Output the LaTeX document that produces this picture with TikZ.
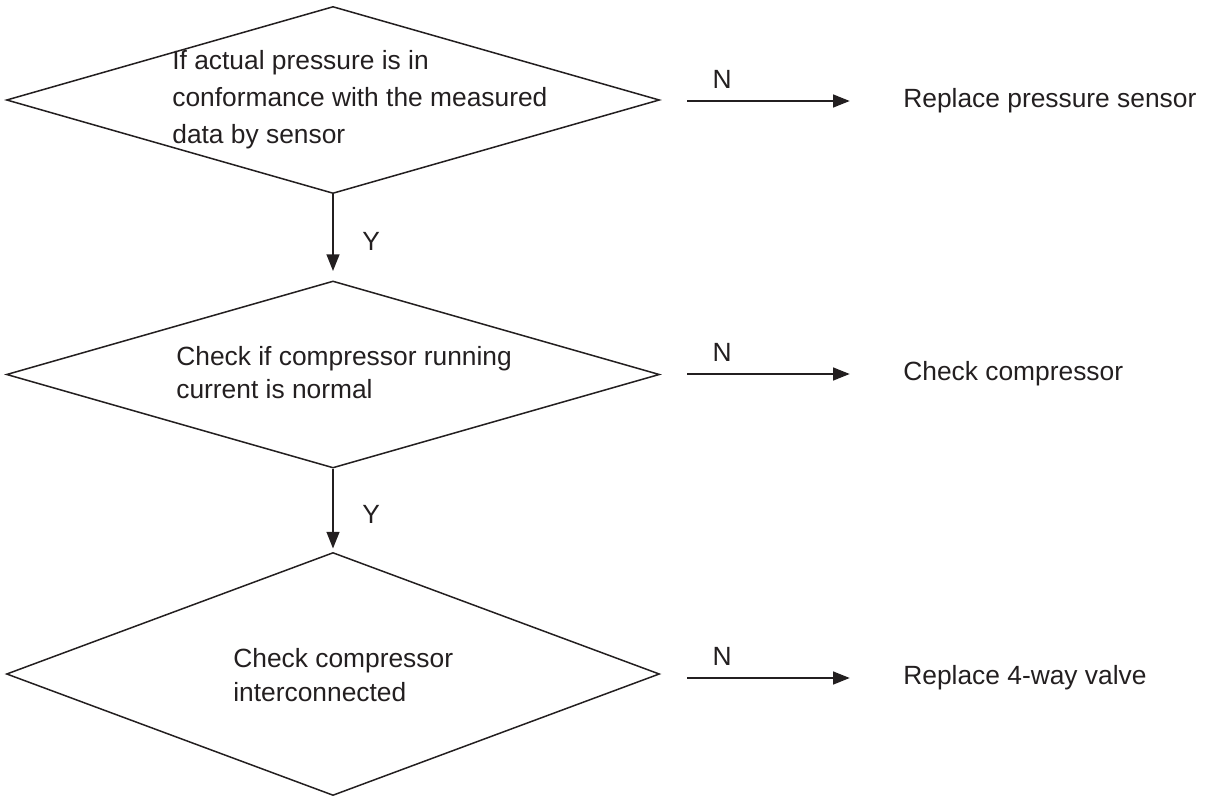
\documentclass[tikz,border=0pt]{standalone}
\usepackage{fontspec}
\setmainfont{Liberation Sans}
\usepackage{xcolor}
\usepackage{tikz}
\usetikzlibrary{arrows.meta,positioning,shapes.geometric}
\definecolor{inkgray}{RGB}{35,31,32}
\tikzset{
  decision/.style={diamond,draw=inkgray,line width=0.85pt,inner sep=0pt,
    minimum width=13.06cm,minimum height=3.74cm},
  arr/.style={-{Triangle[length=3.4mm,width=2.5mm]},line width=1.7pt,draw=inkgray},
  qtext/.style={anchor=west,align=left,inner sep=0pt,
    font=\fontsize{15}{19}\selectfont,text=inkgray},
  action/.style={anchor=west,inner sep=0pt,font=\fontsize{15}{19}\selectfont,text=inkgray},
  yn/.style={inner sep=0pt,font=\fontsize{15}{18}\selectfont,text=inkgray}
}

\begin{document}
\begin{tikzpicture}
\useasboundingbox (0,0) rectangle (24.16,-15.94);

% decisions
\node[decision] (q1) at (6.66,-2.00) {};
\node[decision] (q2) at (6.66,-7.49) {};
\node[decision,minimum height=4.86cm] (q3) at (6.66,-13.48) {};

\node[qtext,font=\fontsize{15}{21}\selectfont] (t1) at (3.44,-2.00)
  {If actual pressure is in\\conformance with the measured\\data by sensor};
\node[qtext] (t2) at (3.52,-7.45)
  {Check if compressor running\\current is normal};
\node[qtext] (t3) at (4.66,-13.50)
  {Check compressor\\interconnected};

% actions
\node[action] (r1) at (18.06,-2.02) {Replace pressure sensor};
\node[action] (r2) at (18.06,-7.48) {Check compressor};
\node[action] (r3) at (18.06,-13.56) {Replace 4-way valve};

\draw[arr,shorten <=0.54cm,shorten >=1.06cm] (q1.east |- r1.west) -- (r1.west)
  node[yn,pos=0.255,above=0.22cm] {N};
\draw[arr,shorten <=0.54cm,shorten >=1.06cm] (q2.east |- r2.west) -- (r2.west)
  node[yn,pos=0.255,above=0.22cm] {N};
\draw[arr,shorten <=0.54cm,shorten >=1.06cm] (q3.east |- r3.west) -- (r3.west)
  node[yn,pos=0.255,above=0.22cm] {N};

\draw[arr,shorten >=0.18cm] (q1.south) -- (q2.north)
  node[yn,pos=0.55,right=0.56cm] {Y};
\draw[arr,shorten >=0.06cm] (q2.south) -- (q3.north)
  node[yn,pos=0.55,right=0.56cm] {Y};

\end{tikzpicture}
\end{document}
